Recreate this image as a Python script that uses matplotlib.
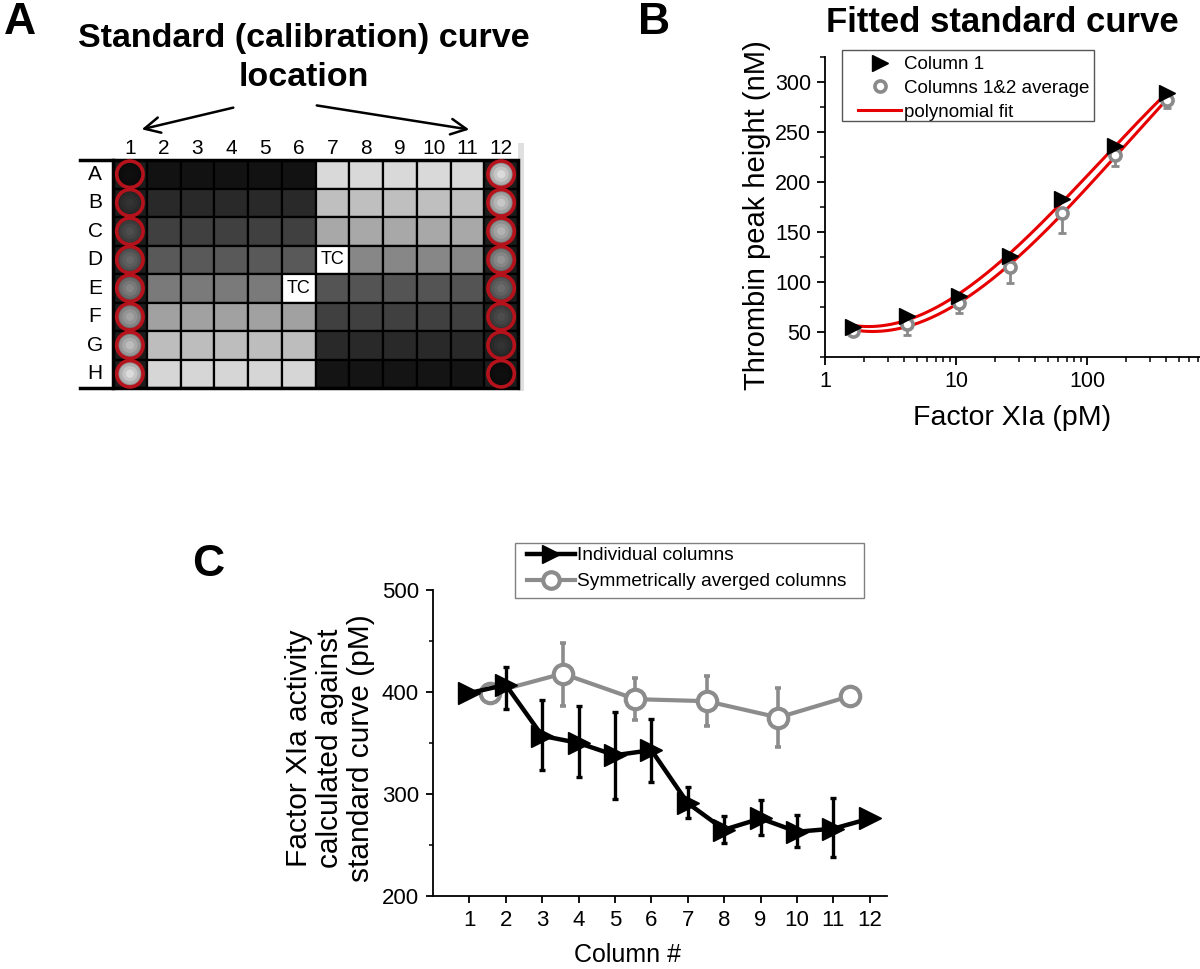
import numpy as np
import matplotlib
matplotlib.use('Agg')
import matplotlib.pyplot as plt
from matplotlib import font_manager
from matplotlib.patches import Rectangle
from matplotlib.ticker import MultipleLocator, FixedLocator, FuncFormatter, LogLocator

plt.rcParams['font.family'] = ['Liberation Sans', 'DejaVu Sans']
# panel C of the original uses a narrow face; use it when it is installed
_names = {f.name for f in font_manager.fontManager.ttflist}
if 'Liberation Sans Narrow' in _names:
    NARROW, NSCALE = ['Liberation Sans Narrow', 'DejaVu Sans'], 1.15
else:
    NARROW, NSCALE = ['Liberation Sans', 'DejaVu Sans'], 1.0

W, H = 1200, 969

# ---- panel A: plate layout ----
PLATE_COLS = [str(i) for i in range(1, 13)]
PLATE_ROWS = list('ABCDEFGH')
LEFT_GRAY = [0.07, 0.16, 0.25, 0.35, 0.48, 0.63, 0.74, 0.84]    # columns 2-6
RIGHT_GRAY = [0.85, 0.75, 0.66, 0.53, 0.33, 0.25, 0.16, 0.08]   # columns 7-11
STD_COL1 = [0.06, 0.2, 0.3, 0.4, 0.52, 0.64, 0.74, 0.86]
STD_COL12 = [0.86, 0.78, 0.7, 0.58, 0.42, 0.3, 0.2, 0.06]
TC_WELLS = [('D', 7), ('E', 6)]

# ---- panel B: standard curve ----
FXIA_PM = [1.65, 4.2, 10.5, 26, 65, 163, 410]
COL1_PEAK = [55, 66, 86, 126, 183, 236, 289]
AVG_PEAK = [51, 58, 79, 115, 169, 227, 282]
AVG_ERR_LO = [2, 11, 10, 16, 20, 11, 8]

# ---- panel C: activity per column ----
COLS = list(range(1, 13))
INDIV = [399, 407, 357, 350, 338, 343, 291, 265, 276, 263, 266, 276]
INDIV_ERR_LO = [0, 24, 33, 33, 43, 31, 15, 13, 16, 15, 28, 0]
INDIV_ERR_HI = [0, 18, 35, 36, 42, 31, 16, 13, 18, 16, 30, 0]
SYM_X = [1.57, 3.56, 5.56, 7.52, 9.49, 11.46]
SYM = [399, 418, 393, 391, 375, 396]
SYM_ERR_LO = [0, 32, 20, 24, 29, 4]
SYM_ERR_HI = [0, 30, 21, 25, 29, 4]

fig = plt.figure(figsize=(W / 100, H / 100), dpi=100)


def pax(l, t, r, b):
    return fig.add_axes([l / W, 1 - b / H, (r - l) / W, (b - t) / H])


def ftext(x, y, s, **kw):
    return fig.text(x / W, 1 - y / H, s, **kw)


def frame(l, t, r, b, color):
    fig.add_artist(Rectangle((l / W, 1 - b / H), (r - l) / W, (b - t) / H,
                             transform=fig.transFigure, fill=False,
                             edgecolor=color, lw=1, zorder=1))


# panel letters
ftext(4, 22, 'A', fontsize=32, weight='bold', va='center')
ftext(638, 22, 'B', fontsize=32, weight='bold', va='center')
ftext(192, 565, 'C', fontsize=32, weight='bold', va='center')

# ================= A =================
axA = pax(113, 160, 518, 388)
axA.set_xlim(0, 12)
axA.set_ylim(8, 0)
axA.axis('off')

axA.add_patch(Rectangle((12, -0.6), 0.18, 8.7, facecolor='#e0e0e0',
                        edgecolor='none', clip_on=False, zorder=0))
for r, row in enumerate(PLATE_ROWS):
    for c in range(12):
        if c == 0 or c == 11:
            fc = '#1c1c1c'
        elif c <= 5:
            fc = str(LEFT_GRAY[r])
        else:
            fc = str(RIGHT_GRAY[r])
        if (row, c + 1) in TC_WELLS:
            fc = 'white'
        axA.add_patch(Rectangle((c, r), 1, 1, facecolor=fc,
                                edgecolor='black', lw=1.6))
        if (row, c + 1) in TC_WELLS:
            axA.text(c + 0.5, r + 0.5, 'TC', ha='center', va='center',
                     fontsize=13)
axA.add_patch(Rectangle((0, 0), 12, 8, fill=False, edgecolor='black',
                        lw=2.5, clip_on=False))

# standard wells: soft radial shading inside a red ring
for c, grays in [(0, STD_COL1), (11, STD_COL12)]:
    xs = [c + 0.5] * 8
    ys = [r + 0.5 for r in range(8)]
    for size, k in [(19, 0.68), (15, 0.8), (11, 0.9), (6, 1.0)]:
        axA.scatter(xs, ys, s=size ** 2, c=[str(min(g * k, 1)) for g in grays],
                    edgecolors='none', clip_on=False, zorder=3)
    axA.scatter(xs, ys, s=19 ** 2, facecolors='none', edgecolors='#b5121b',
                linewidths=2.6, clip_on=False, zorder=4)

for c, lab in enumerate(PLATE_COLS):
    axA.text(c + 0.5, -0.4, lab, ha='center', va='center', fontsize=15)
for r, lab in enumerate(PLATE_ROWS):
    axA.text(-0.53, r + 0.5, lab, ha='center', va='center', fontsize=15)
axA.plot([-0.98, 0], [0, 0], color='black', lw=2.5, clip_on=False)
axA.plot([-0.98, 0], [8, 8], color='black', lw=2.5, clip_on=False)

ftext(304, 38, 'Standard (calibration) curve', ha='center', va='center',
      fontsize=24.5, weight='bold')
ftext(304, 78, 'location', ha='center', va='center', fontsize=24.5,
      weight='bold')
for tail, head in [((236, 107), (139, 130)), ((314, 105), (472, 130))]:
    axA.annotate('', xy=(head[0], H - head[1]), xytext=(tail[0], H - tail[1]),
                 xycoords='figure pixels', textcoords='figure pixels',
                 arrowprops=dict(arrowstyle='->', lw=1.8, color='black',
                                 mutation_scale=28))

# ================= B =================
axB = pax(825, 57, 1200, 357)
axB.set_xscale('log')
axB.set_xlim(1, 10 ** ((1200 - 825) / 131))
axB.set_ylim(25, 325)
for s in ['top', 'right']:
    axB.spines[s].set_visible(False)
axB.spines['left'].set_linewidth(1.3)
axB.spines['bottom'].set_linewidth(1.3)
axB.yaxis.set_major_locator(FixedLocator([50, 100, 150, 200, 250, 300]))
axB.yaxis.set_minor_locator(MultipleLocator(25))
axB.xaxis.set_major_locator(FixedLocator([1, 10, 100]))
axB.xaxis.set_minor_locator(LogLocator(base=10, subs=np.arange(2, 10)))
axB.xaxis.set_major_formatter(FuncFormatter(lambda v, p: f'{v:g}'))
axB.xaxis.set_minor_formatter(FuncFormatter(lambda v, p: ''))
axB.tick_params(which='major', direction='out', length=6, width=1.3,
                labelsize=15.5, pad=4)
axB.tick_params(which='minor', direction='out', length=3.5, width=1.1)

lx = np.log10(FXIA_PM)
xs = np.linspace(lx[0], lx[-1], 200)
fit_line = None
for ys in [COL1_PEAK, AVG_PEAK]:
    p = np.polyfit(lx, ys, 3)
    fit_line, = axB.plot(10 ** xs, np.polyval(p, xs), color='#e60000', lw=2.2,
                         zorder=2)
axB.errorbar(FXIA_PM, AVG_PEAK, yerr=[AVG_ERR_LO, [0] * 7], fmt='none',
             ecolor='#8a8a8a', elinewidth=2, capsize=3, capthick=2, zorder=3)
avg_pts, = axB.plot(FXIA_PM, AVG_PEAK, 'o', ms=8, mfc='white', mec='#8a8a8a',
                    mew=2.6, zorder=4)
col1_pts, = axB.plot(FXIA_PM, COL1_PEAK, '>', ms=11, color='black', zorder=5)

frame(842, 50, 1094, 121, '#555555')
axB.legend([col1_pts, avg_pts, fit_line],
           ['Column 1', 'Columns 1&2 average', 'polynomial fit'],
           loc='upper left', bbox_to_anchor=(858 / W, 1 - 56 / H),
           bbox_transform=fig.transFigure, fontsize=13.5, frameon=False,
           borderpad=0, labelspacing=0.36, handlelength=2.3,
           handletextpad=0.15, borderaxespad=0)

ftext(1002, 22, 'Fitted standard curve', ha='center', va='center',
      fontsize=25, weight='bold')
ftext(757, 215, 'Thrombin peak height (nM)', rotation=90, ha='center',
      va='center', fontsize=21)
ftext(1012, 418, 'Factor XIa (pM)', ha='center', va='center', fontsize=20.5)

# ================= C =================
axC = pax(433, 590, 887, 896)
axC.set_xlim(0, (887 - 433) / 36.4)
axC.set_ylim(200, 500)
for s in ['top', 'right']:
    axC.spines[s].set_visible(False)
axC.spines['left'].set_linewidth(1.3)
axC.spines['bottom'].set_linewidth(1.3)
axC.set_xticks(COLS)
axC.yaxis.set_major_locator(MultipleLocator(100))
axC.yaxis.set_minor_locator(MultipleLocator(50))
axC.tick_params(which='major', direction='out', length=5, width=1.3,
                labelsize=16 * NSCALE, pad=5)
axC.tick_params(which='minor', direction='out', length=3, width=1.1)
for lab in axC.get_xticklabels() + axC.get_yticklabels():
    lab.set_family(NARROW)

axC.errorbar(SYM_X, SYM, yerr=[SYM_ERR_LO, SYM_ERR_HI], fmt='none',
             ecolor='#8c8c8c', elinewidth=2.6, capsize=2.5, capthick=2.6,
             zorder=2)
sym_line, = axC.plot(SYM_X, SYM, '-o', color='#8c8c8c', lw=3, ms=14,
                     mfc='white', mec='#8c8c8c', mew=3, zorder=2)
axC.errorbar(COLS, INDIV, yerr=[INDIV_ERR_LO, INDIV_ERR_HI], fmt='none',
             ecolor='black', elinewidth=2.4, capsize=2.5, capthick=2.4,
             zorder=3)
ind_line, = axC.plot(COLS, INDIV, '->', color='black', lw=3.2, ms=16, zorder=3)

frame(515, 543, 864, 598, '#808080')
axC.legend([ind_line, sym_line],
           ['Individual columns', 'Symmetrically averged columns'],
           loc='upper left', bbox_to_anchor=(527 / W, 1 - 547 / H),
           bbox_transform=fig.transFigure,
           prop={'family': NARROW, 'size': 13.8 * NSCALE}, frameon=False,
           borderpad=0, labelspacing=0.45, handlelength=2.5,
           handletextpad=0.1, borderaxespad=0, markerscale=0.85)

ftext(330, 748, 'Factor XIa activity\ncalculated against\nstandard curve (pM)',
      rotation=90, ha='center', va='center', fontsize=21.5, linespacing=1.12,
      multialignment='center', family=NARROW)
ftext(627, 955, 'Column #', ha='center', va='center', fontsize=18,
      family=NARROW)

fig.savefig('out.png', dpi=100)
